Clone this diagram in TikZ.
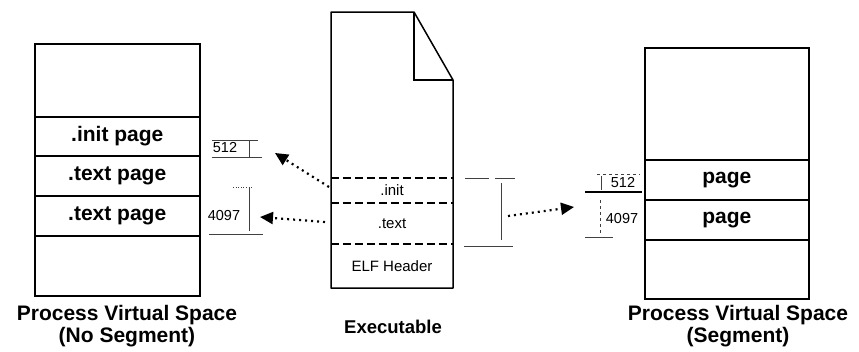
\documentclass[tikz,border=0pt]{standalone}
\usepackage{fontspec}
\setmainfont{Liberation Sans}
\usetikzlibrary{arrows.meta}
\begin{document}
\begin{tikzpicture}[x=1pt,y=-1pt,
  cell/.style={draw=black, line width=1.5pt, minimum width=#1, inner sep=0pt, anchor=north west},
  big/.style={font=\fontsize{21}{22}\selectfont\bfseries},
  small/.style={font=\fontsize{15}{16}\selectfont},
  num/.style={font=\fontsize{14.5}{15}\selectfont},
  dim/.style={draw=black!75, line width=0.6pt},
  maparrow/.style={line width=2.2pt, dash pattern=on 2pt off 4pt, -{Triangle[length=13pt,width=12pt]}},
  sect/.style={line width=1.5pt, dash pattern=on 8pt off 4pt}
]
\useasboundingbox (0,0) rectangle (859,351);
% ---------- left box (no segment)
\node[cell=165pt, minimum height=73pt] (L0) at (34,43) {};
\node[cell=165pt, minimum height=39pt, big] (L1) at (34,116) {.init page};
\node[cell=165pt, minimum height=40pt, big] (L2) at (34,155) {.text page};
\node[cell=165pt, minimum height=40pt, big] (L3) at (34,195) {.text page};
\node[cell=165pt, minimum height=60pt] (L4) at (34,235) {};
\node[align=center, font=\fontsize{21}{22}\selectfont\bfseries] (Llab) at (127,326) {Process Virtual Space\\(No Segment)};
% ---------- executable
\draw[line width=1.5pt, line join=round] (331,12) coordinate (Etl) -- (414,12) coordinate (Efold)
  -- (453,80) -- (453,288) -- (331,288) -- cycle;
\draw[line width=1.5pt] (Efold) -- (414,80) -- (453,80);
\node[minimum width=122pt, minimum height=25pt, inner sep=0pt, small] (Einit) at (392,190.5) {.init};
\node[minimum width=122pt, minimum height=41pt, inner sep=0pt, small] (Etext) at (392,223.5) {.text};
\node[minimum width=122pt, minimum height=44pt, inner sep=0pt, small] (Ehdr) at (392,266) {ELF Header};
\draw[sect] (Einit.north west) -- (Einit.north east);
\draw[sect] (Etext.north west) -- (Etext.north east);
\draw[sect] (Ehdr.north west) -- (Ehdr.north east);
\node[font=\fontsize{18.5}{19}\selectfont\bfseries] (Elab) at (393,327) {Executable};
% ---------- right box (segment)
\node[cell=164pt, minimum height=112pt] (R0) at (644,47) {};
\node[cell=164pt, minimum height=40pt, big] (R1) at (644,159) {page};
\node[cell=164pt, minimum height=40pt, big] (R2) at (644,199) {page};
\node[cell=164pt, minimum height=59pt] (R3) at (644,239) {};
\node[align=center, font=\fontsize{21}{22}\selectfont\bfseries] (Rlab) at (738,326) {Process Virtual Space\\(Segment)};
% ---------- dimension marks, left
\node[num] (d512a) at (225,148) {512};
\draw[dim] (212,140) -- (258,140);
\draw[dim] (212,157) -- (262,157);
\draw[dim] (249,141) -- (249,157);
\node[num] (d4097a) at (224,216) {4097};
\draw[dim, dotted] (233,187) -- (253,187);
\draw[dim] (249,187) -- (249,231);
\draw[dim] (209,234) -- (263,234);
% ---------- dimension marks, middle
\draw[dim] (465,178) -- (489,178);
\draw[dim] (495,178) -- (515,178);
\draw[dim] (501,183) -- (501,240);
\draw[dim] (464,246) -- (513,246);
% ---------- dimension marks, right
\node[num] (d512b) at (623,183) {512};
\draw[dim, dashed] (597,174) -- (640,174);
\draw[dim] (601,176) -- (601,190);
\draw[line width=1.2pt] (585,192) -- (642,192);
\node[num] (d4097b) at (622,219) {4097};
\draw[dim, dashed] (600,200) -- (600,233);
\draw[dim] (585,237) -- (613,237);
% ---------- mapping arrows
\coordinate (a1s) at (329,187);
\coordinate (a1e) at (275,153);
\coordinate (a2s) at (325,222);
\coordinate (a2e) at (260,217);
\coordinate (a3s) at (508,216);
\coordinate (a3e) at (574,207);
\draw[maparrow] (a1s) -- (a1e);
\draw[maparrow] (a2s) -- (a2e);
\draw[maparrow] (a3s) -- (a3e);
\end{tikzpicture}
\end{document}
